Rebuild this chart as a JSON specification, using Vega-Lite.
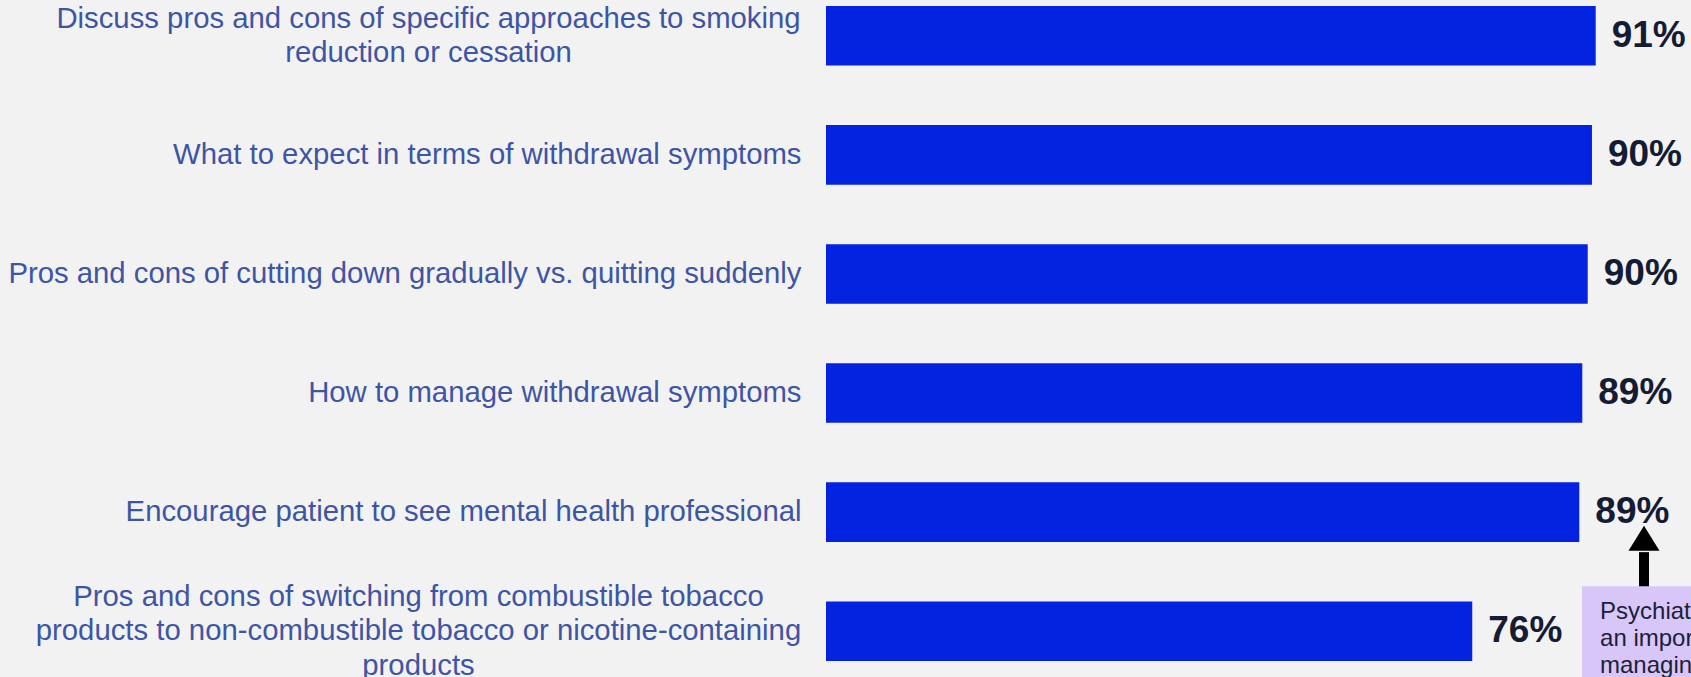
{
  "$schema": "https://vega.github.io/schema/vega-lite/v6.json",
  "autosize": {"type": "none"},
  "padding": {"left": 826, "top": 6, "right": 16, "bottom": 16},
  "width": 849,
  "height": 655,
  "background": "#f2f2f2",
  "config": {"view": {"stroke": null}},
  "datasets": {
    "bars": [
      {"item": "Discuss pros and cons of specific approaches to smoking|reduction or cessation", "value": 0.9066},
      {"item": "What to expect in terms of withdrawal symptoms", "value": 0.9022},
      {"item": "Pros and cons of cutting down gradually vs. quitting suddenly", "value": 0.8972},
      {"item": "How to manage withdrawal symptoms", "value": 0.8908},
      {"item": "Encourage patient to see mental health professional", "value": 0.8873},
      {"item": "Pros and cons of switching from combustible tobacco|products to non-combustible tobacco or nicotine-containing|products", "value": 0.7612}
    ],
    "note": [
      {"item": "Pros and cons of switching from combustible tobacco|products to non-combustible tobacco or nicotine-containing|products", "start": 0.8905, "end": 1.3, "textx": 0.9117, "text": "Psychiatrists see this as\nan important factor in\nmanaging tobacco use"}
    ],
    "arrow": [
      {"from": "Encourage patient to see mental health professional", "to": "Pros and cons of switching from combustible tobacco|products to non-combustible tobacco or nicotine-containing|products", "x": 0.9635}
    ]
  },
  "layer": [
    {
      "data": {"name": "bars"},
      "mark": {"type": "bar", "color": "#0323e0"},
      "encoding": {
        "x": {"field": "value", "type": "quantitative", "scale": {"domain": [0, 1], "nice": false, "zero": true}, "axis": null},
        "y": {
          "field": "item", "type": "nominal", "sort": null,
          "scale": {"paddingInner": 0.5, "paddingOuter": 0},
          "axis": {
            "title": null, "domain": false, "ticks": false, "tickSize": 0, "grid": false,
            "labelFont": "Liberation Sans", "labelFontSize": 29.3, "labelColor": "#3d55a5",
            "labelLimit": 0, "labelOverlap": false, "labelLineHeight": 34.5,
            "labelExpr": "split(datum.label, '|')",
            "labelAlign": {"condition": {"test": "indexof(datum.value, '|') >= 0", "value": "center"}, "value": "right"},
            "labelPadding": {"condition": [
              {"test": "indexof(datum.value, 'Discuss') == 0", "value": 398},
              {"test": "indexof(datum.value, 'switching') >= 0", "value": 408}
            ], "value": 25},
            "labelOffset": {"condition": [
              {"test": "indexof(datum.value, 'Discuss') == 0", "value": -17},
              {"test": "indexof(datum.value, 'switching') >= 0", "value": -34.5}
            ], "value": 0}
          }
        }
      }
    },
    {
      "data": {"name": "bars"},
      "mark": {"type": "text", "align": "left", "baseline": "middle", "dx": 16, "font": "Liberation Sans", "fontSize": 37, "fontWeight": "bold", "color": "#141b34"},
      "encoding": {
        "x": {"field": "value", "type": "quantitative"},
        "y": {"field": "item", "type": "nominal", "sort": null},
        "text": {"field": "value", "type": "quantitative", "format": ".0%"}
      }
    },
    {
      "data": {"name": "arrow"},
      "mark": {"type": "rule", "color": "#000000", "strokeWidth": 10, "strokeCap": "butt", "yOffset": 40},
      "encoding": {
        "x": {"field": "x", "type": "quantitative"},
        "y": {"field": "from", "type": "nominal", "sort": null},
        "y2": {"field": "to"}
      }
    },
    {
      "data": {"name": "arrow"},
      "mark": {"type": "point", "shape": "M0,-0.806L1,0.806L-1,0.806Z", "size": 961, "filled": true, "color": "#000000", "opacity": 1, "strokeWidth": 0, "yOffset": 26},
      "encoding": {
        "x": {"field": "x", "type": "quantitative"},
        "y": {"field": "from", "type": "nominal", "sort": null}
      }
    },
    {
      "data": {"name": "note"},
      "mark": {"type": "bar", "color": "#d8c6f8", "height": 108, "yOffset": 9},
      "encoding": {
        "x": {"field": "start", "type": "quantitative"},
        "x2": {"field": "end"},
        "y": {"field": "item", "type": "nominal", "sort": null}
      }
    },
    {
      "data": {"name": "note"},
      "mark": {"type": "text", "align": "left", "baseline": "alphabetic", "font": "Liberation Sans", "fontSize": 24, "lineHeight": 27, "lineBreak": "\n", "color": "#1a1f3a", "yOffset": -12.3},
      "encoding": {
        "x": {"field": "textx", "type": "quantitative"},
        "y": {"field": "item", "type": "nominal", "sort": null},
        "text": {"field": "text", "type": "nominal"}
      }
    }
  ]
}
